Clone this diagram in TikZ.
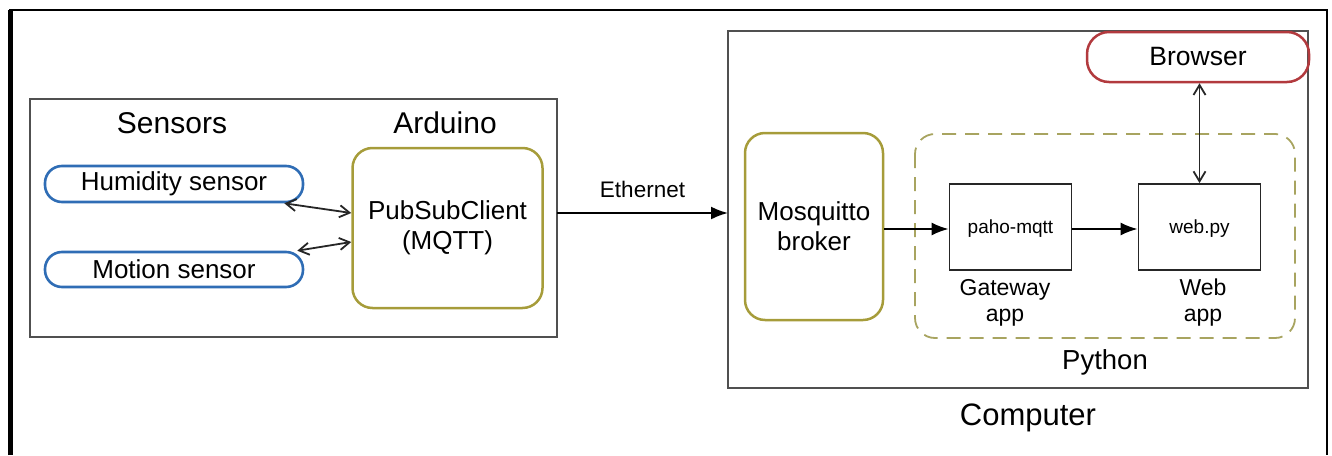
\documentclass[tikz,border=0pt]{standalone}
\usepackage{fontspec}
\setmainfont{Liberation Sans}
\usetikzlibrary{arrows.meta}
\definecolor{sblue}{HTML}{2F6DB5}
\definecolor{olive}{HTML}{A69C3A}
\definecolor{dolive}{HTML}{A8A460}
\definecolor{bred}{HTML}{B23A3E}
\definecolor{gframe}{HTML}{505050}
\newcommand{\fs}[1]{\fontsize{#1}{#1}\selectfont}
\newcommand{\lowtext}[1]{\raisebox{-6pt}[0pt][0pt]{#1}}
\tikzset{
  sensorbox/.style={draw=sblue, line width=2.6pt, rounded corners=17pt, inner sep=0pt, font=\fs{26}},
  olivebox/.style={draw=olive, line width=2.5pt, rounded corners=20pt, inner sep=0pt, align=center, font={\fontsize{26}{30}\selectfont}},
  appbox/.style={draw=black!85, line width=1.8pt, inner sep=0pt, font=\fs{19}},
  groupbox/.style={draw=gframe, line width=1.8pt},
  lbl/.style={inner sep=0pt, align=center},
  dbl/.style={draw=black!85, line width=1.8pt, {Straight Barb[length=10pt,width=12pt,line width=1.8pt]}-{Straight Barb[length=10pt,width=12pt,line width=1.8pt]}},
  solidarrow/.style={draw=black, line width=2pt, -{Latex[length=17pt,width=13pt]}},
}
\begin{document}
\begin{tikzpicture}[x=1pt,y=-1pt]
\useasboundingbox (0,0) rectangle (1332,455);
% outer frame
\draw[line width=4.5pt] (10.5,455) -- (10.5,10);
\draw[line width=2pt] (9,10) -- (1327,10);
\draw[line width=2.5pt] (1327,9) -- (1327,455);
% group boxes
\draw[groupbox] (30,99) rectangle (557,337);
\draw[groupbox] (728,31) rectangle (1308,388);
\draw[draw=dolive, line width=1.8pt, dash pattern=on 14pt off 9pt, rounded corners=20pt] (915,134) rectangle (1295,338);
% group labels
\node[lbl, font=\fs{30}] (tsens) at (172,123) {Sensors};
\node[lbl, font=\fs{30}] (tard) at (445,123) {Arduino};
\node[lbl, font=\fs{31}] (tcomp) at (1028,418) {Computer};
\node[lbl, font=\fs{27.5}] (tpy) at (1105,362) {Python};
% nodes
\node[sensorbox, minimum width=258pt, minimum height=36pt] (hum) at (174,184) {Humidity sensor};
\node[sensorbox, minimum width=258pt, minimum height=35pt] (mot) at (174,269.5) {Motion sensor};
\node[olivebox, minimum width=190pt, minimum height=160pt] (psc) at (447.5,228) {PubSubClient\\(MQTT)};
\node[olivebox, minimum width=138pt, minimum height=187pt] (mos) at (814,226.5) {Mosquitto\\broker};
\node[draw=bred, line width=2.5pt, rounded corners=22pt, inner sep=0pt, minimum width=222pt, minimum height=50pt, font=\fs{26.5}] (brw) at (1198,57) {Browser};
\node[appbox, minimum width=122pt, minimum height=86pt] (paho) at (1010.5,227) {\lowtext{paho-mqtt}};
\node[appbox, minimum width=122pt, minimum height=86pt] (web) at (1199.5,227) {\lowtext{web.py}};
\node[lbl, font={\fontsize{23}{26}\selectfont}] (tgw) at (1005,303) {Gateway\\app};
\node[lbl, font={\fontsize{23}{26}\selectfont}] (twa) at (1203,303) {Web\\app};
% connectors
\coordinate (eths) at (557,213);
\coordinate (ethe) at (728,213);
\draw[solidarrow] (eths) -- node[above=14pt, inner sep=0pt, font=\fs{22.5}] (teth) {Ethernet} (ethe);
\draw[dbl] ([xshift=-20pt]hum.south east) -- ([yshift=15pt]psc.west);
\draw[dbl] ([xshift=-7pt]mot.north east) -- ([yshift=-14pt]psc.west);
\draw[solidarrow] (mos.east |- 0,229) -- (paho.west |- 0,229);
\draw[solidarrow] (paho.east |- 0,229) -- (web.west |- 0,229);
\draw[dbl] (web.north) -- (brw.south -| web.north);
\end{tikzpicture}
\end{document}
